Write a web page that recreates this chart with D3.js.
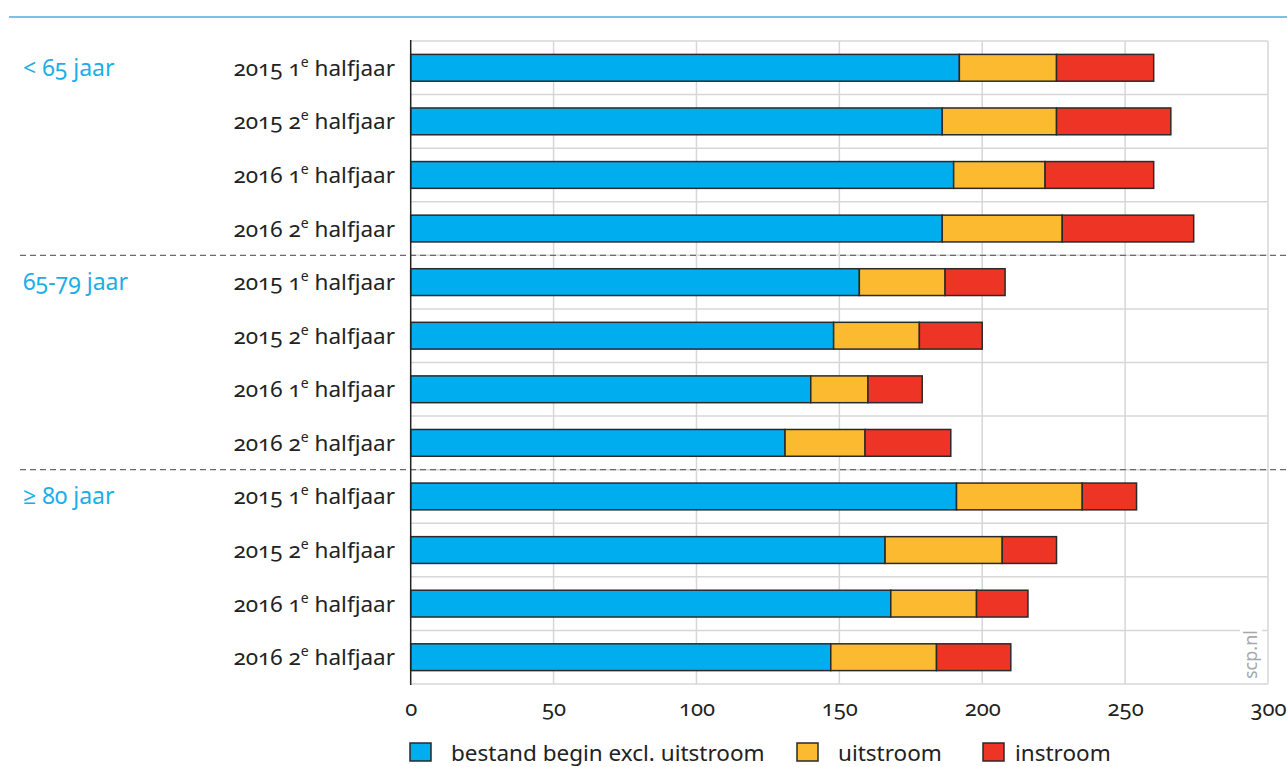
<!DOCTYPE html>
<html><head><meta charset="utf-8">
<script src="https://cdn.jsdelivr.net/npm/d3@7/dist/d3.min.js"></script>
<style>
body{margin:0;background:#fff;}
svg{display:block;}
svg text{font-family:"Noto Sans","Open Sans",sans-serif;font-variant-numeric:oldstyle-nums;}
</style></head><body>
<svg id="c" width="1287" height="767"></svg>
<script>
const groups = ["< 65 jaar", "65-79 jaar", "≥ 80 jaar"];
const periods = [["2015","1"],["2015","2"],["2016","1"],["2016","2"]];
const seriesNames = ["bestand begin excl. uitstroom", "uitstroom", "instroom"];
const bestand  = [192,186,190,186, 157,148,140,131, 191,166,168,147];
const uitstroom = [34,40,32,42, 30,30,20,28, 44,41,30,37];
const instroom  = [34,40,38,46, 21,22,19,30, 19,19,18,26];
const xTicks = [0,50,100,150,200,250,300];
const colors = ["#00adef","#fcba30","#ee3424"];

const svg = d3.select("#c");
const rows = [];
groups.forEach((g,gi)=>periods.forEach((p,pi)=>{
  const i = gi*4+pi;
  rows.push({id:i, group:g, year:p[0], half:p[1], vals:[bestand[i],uitstroom[i],instroom[i]]});
}));

const x = d3.scaleLinear().domain([0,300]).range([410.7,1268]);
const y = d3.scaleBand().domain(rows.map(r=>r.id)).range([41,684]).paddingInner(0.5).paddingOuter(0.25);
const step = y.step();

// top rule
svg.append("line").attr("x1",9).attr("x2",1287).attr("y1",17).attr("y2",17)
  .attr("stroke","#4aaee2").attr("stroke-width",1.6);

// horizontal grid at band boundaries
const hg = d3.range(13).map(k=>41+k*step);
svg.append("g").selectAll("line").data(hg).join("line")
  .attr("x1",410).attr("x2",1268).attr("y1",d=>d).attr("y2",d=>d)
  .attr("stroke","#d7d7d7").attr("stroke-width",1.5);
// vertical grid
svg.append("g").selectAll("line").data(xTicks.slice(1)).join("line")
  .attr("x1",d=>x(d)).attr("x2",d=>x(d)).attr("y1",41).attr("y2",684)
  .attr("stroke","#d7d7d7").attr("stroke-width",1.5);

// dashed group separators
[4,8].forEach(k=>{
  const yy = 41+k*step;
  svg.append("line").attr("x1",20).attr("x2",1287).attr("y1",yy).attr("y2",yy)
    .attr("stroke","#6a6a6a").attr("stroke-width",1.2).attr("stroke-dasharray","6,4");
});

// bars
const stack = d3.stack().keys([0,1,2]).value((r,k)=>r.vals[k])(rows);
svg.append("g").selectAll("g").data(stack).join("g")
  .attr("fill",(d,i)=>colors[i])
  .selectAll("rect").data(d=>d).join("rect")
  .attr("x",d=>x(d[0])).attr("width",d=>x(d[1])-x(d[0]))
  .attr("y",d=>y(d.data.id)).attr("height",y.bandwidth())
  .attr("stroke","#2a2a2a").attr("stroke-width",1.5);

// y axis line
svg.append("line").attr("x1",410.7).attr("x2",410.7).attr("y1",40).attr("y2",685)
  .attr("stroke","#222").attr("stroke-width",1.5);

// row labels
const rl = svg.append("g").selectAll("text").data(rows).join("text")
  .attr("x",395).attr("y",d=>y(d.id)+y.bandwidth()/2+8)
  .attr("text-anchor","end").attr("font-size",22.5).attr("fill","#222");
rl.append("tspan").text(d=>d.year+" "+d.half);
rl.append("tspan").text("e").attr("font-size",14).attr("dy",-9);
rl.append("tspan").text(" halfjaar").attr("dy",9);

// group labels
svg.append("g").selectAll("text").data(groups).join("text")
  .attr("x",23).attr("y",(d,i)=>y(i*4)+y.bandwidth()/2+8)
  .attr("font-size",23).attr("fill","#1aaee8").text(d=>d);

// x axis labels
const xa = svg.append("g").attr("transform","translate(0,685)")
  .call(d3.axisBottom(x).tickValues(xTicks).tickSize(0).tickPadding(15));
xa.attr("font-family",null).attr("font-size",null);
xa.select(".domain").remove();
xa.selectAll("text").attr("font-size",22).attr("fill","#222");

// watermark
svg.append("rect").attr("x",1240).attr("y",626).attr("width",22).attr("height",54).attr("fill","#fff");
svg.append("text").attr("transform","translate(1257,679) rotate(-90)")
  .attr("font-size",18).attr("fill","#a8a8a8").text("scp.nl");

// legend
const lx = [410,797,983];
const lg = svg.append("g").selectAll("g").data(seriesNames).join("g")
  .attr("transform",(d,i)=>`translate(${lx[i]},743)`);
lg.append("rect").attr("width",21).attr("height",18).attr("fill",(d,i)=>colors[i])
  .attr("stroke","#2a2a2a").attr("stroke-width",1.5);
lg.append("text").attr("x",(d,i)=>i===2?32:41).attr("y",18).attr("font-size",22.5)
  .attr("fill","#222").text(d=>d);
</script>
</body></html>
